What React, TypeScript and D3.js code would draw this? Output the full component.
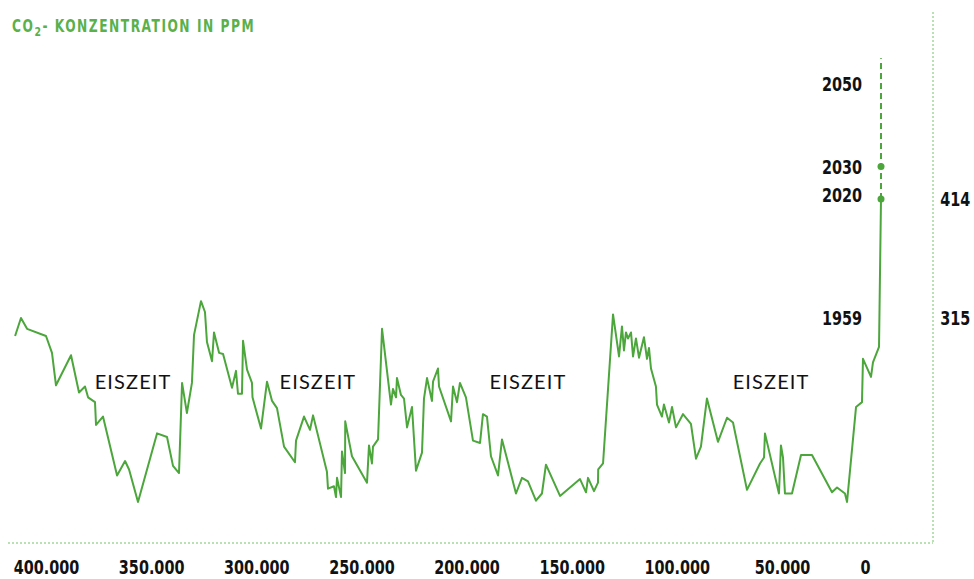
import React, { useEffect, useRef } from 'react';
import * as d3 from 'd3';

// years before present (x) and CO2 ppm (y)
const years = [
  414700, 411900, 409000, 400000, 397150, 395250, 388100, 384300, 381450, 380000,
  376700, 376200, 372900, 366200, 362400, 360500, 356250, 347200, 342450, 339600,
  336750, 335300, 333000, 330600, 329600, 326300, 324400, 323450, 321050, 320100,
  317700, 315800, 311550, 309650, 308700, 306800, 306300, 304400, 302050, 301800,
  297750, 294900, 292500, 290150, 286800, 281600, 281100, 277300, 274450, 273000,
  266400, 265900, 263050, 262100, 261600, 259700, 259250, 257800, 257700, 254500,
  247350, 246400, 245000, 244500, 242100, 240200, 235950, 235000, 233550, 233100,
  231200, 229750, 228300, 225950, 224050, 221200, 220250, 218800, 216450, 215950,
  213600, 213100, 207400, 206450, 204550, 203150, 200300, 196950, 193600, 192200,
  190300, 188400, 185050, 183150, 176500, 173650, 170800, 167000, 164150, 162250,
  155550, 146050, 143200, 142250, 139400, 137500, 137400, 135100, 130350, 127500,
  126100, 125150, 124200, 123250, 121800, 120850, 119450, 118000, 115650, 114200,
  113250, 112300, 109950, 109450, 107100, 106150, 103750, 102300, 100400, 97100,
  93300, 90900, 88550, 85700, 80450, 76150, 73300, 66650, 60450, 58550,
  58100, 51450, 50500, 49500, 48500, 44950, 40400, 34850, 24750, 22200,
  18200, 17150, 12600, 9600, 9100, 5050, 4050, 1000, 0,
];
const ppm = [
  300, 315, 306, 300, 286, 259, 284, 253, 258, 249,
  245, 226, 233, 184, 196, 189, 162, 219, 216, 192,
  186, 261, 236, 261, 301, 329, 320, 295, 279, 303,
  286, 285, 257, 271, 252, 252, 296, 272, 261, 249,
  223, 262, 246, 240, 208, 195, 213, 233, 222, 234,
  187, 173, 175, 166, 182, 166, 204, 186, 229, 200,
  178, 209, 194, 208, 214, 306, 243, 256, 249, 265,
  251, 248, 224, 241, 188, 203, 248, 265, 246, 262,
  273, 258, 229, 258, 245, 261, 249, 213, 211, 235,
  233, 200, 184, 214, 169, 182, 179, 163, 169, 193,
  167, 181, 170, 182, 171, 178, 189, 194, 318, 283,
  308, 288, 303, 298, 303, 283, 298, 282, 299, 281,
  290, 273, 258, 243, 233, 243, 228, 241, 224, 235,
  227, 198, 208, 248, 212, 232, 228, 172, 194, 199,
  219, 169, 209, 199, 169, 169, 201, 201, 170, 174,
  169, 162, 241, 245, 281, 266, 278, 291, 414,
];

const xTicks = [400000, 350000, 300000, 250000, 200000, 150000, 100000, 50000, 0];
const yTicks = [315, 414];

// projection above the present day value
const projYears = ['2020', '2030'];
const projPpm = [414, 441];
const projTop = 531;

const yearLabels = ['2050', '2030', '2020', '1959'];
const yearLabelPpm = [510, 441, 417, 315];

const iceAgeYears = [358600, 270700, 170800, 55200];
const iceAgePpm = 262;

const GREEN = '#4ca63c';
const LIGHT = '#74c266';
const NARROW = "'DejaVu Sans Condensed', sans-serif";
const SQUEEZE = 'scale(0.8,1)';

const App = () => {
  const ref = useRef<SVGSVGElement>(null);

  useEffect(() => {
    const svg = d3.select(ref.current);
    svg.selectAll('*').remove();

    const x = d3.scaleLinear().domain([400000, 50000, 0]).range([46, 782, 881]);
    const y = d3.scaleLinear().domain([315, 414]).range([318, 199]);
    const frameRight = 933;
    const frameBottom = 543;

    const fmt = d3.formatLocale({ decimal: ',', thousands: '.', grouping: [3], currency: ['', ''] }).format(',');

    // dotted frame
    svg.append('line')
      .attr('x1', 8).attr('x2', frameRight)
      .attr('y1', frameBottom).attr('y2', frameBottom)
      .attr('stroke', LIGHT).attr('stroke-dasharray', '2 2')
    svg.append('line')
      .attr('x1', frameRight).attr('x2', frameRight)
      .attr('y1', 12).attr('y2', frameBottom)
      .attr('stroke', LIGHT).attr('stroke-dasharray', '2 2')

    // x axis
    const xa = svg.append('g')
      .attr('transform', `translate(0,${frameBottom})`)
      .call(d3.axisBottom(x).tickValues(xTicks).tickSize(0).tickPadding(17).tickFormat((d) => fmt(d as number)))
    xa.select('.domain').remove()
    xa.selectAll('text')
      .attr('font-family', NARROW).attr('font-weight', 'bold').attr('font-size', 20).attr('fill', '#111')
      .attr('transform', SQUEEZE)
    // the "0" label sits a little left of the present-day end of the line
    xa.selectAll('text').filter((d) => d === 0).attr('dx', -20)

    // right axis
    const ya = svg.append('g')
      .attr('transform', `translate(${frameRight},0)`)
      .call(d3.axisRight(y).tickValues(yTicks).tickSize(0).tickPadding(9).tickFormat((d) => String(d)))
    ya.select('.domain').remove()
    ya.selectAll('text')
      .attr('font-family', NARROW).attr('font-weight', 'bold').attr('font-size', 20).attr('fill', '#111')
      .attr('transform', SQUEEZE)

    // title
    const title = svg.append('text')
      .attr('transform', `translate(12,32) ${SQUEEZE}`)
      .attr('font-family', NARROW).attr('font-weight', 'bold').attr('font-size', 17)
      .attr('letter-spacing', 1.9).attr('fill', '#5ab04b')
    title.append('tspan').text('CO')
    title.append('tspan').attr('font-size', 13).attr('dy', 4).text('2')
    title.append('tspan').attr('dy', -4).text('- KONZENTRATION IN PPM')

    // ice age labels
    svg.selectAll('.eis')
      .data(iceAgeYears)
      .enter()
      .append('text')
      .attr('class', 'eis')
      .attr('x', (d) => x(d))
      .attr('y', y(iceAgePpm))
      .attr('dy', '0.35em')
      .attr('text-anchor', 'middle')
      .attr('font-family', 'Lato, sans-serif').attr('font-size', 20)
      .attr('letter-spacing', 1.1).attr('fill', '#111')
      .text('EISZEIT')

    // projection
    svg.append('line')
      .attr('x1', x(0)).attr('x2', x(0))
      .attr('y1', y(projPpm[0])).attr('y2', y(projTop))
      .attr('stroke', GREEN).attr('stroke-width', 2).attr('stroke-dasharray', '6 4')

    // main line
    const data = years.map((yr, i) => ({ yr, v: ppm[i] }))
    const line = d3.line<{ yr: number; v: number }>().x((d) => x(d.yr)).y((d) => y(d.v))
    svg.append('path')
      .datum(data)
      .attr('d', line)
      .attr('fill', 'none')
      .attr('stroke', GREEN)
      .attr('stroke-width', 2)
      .attr('stroke-linejoin', 'round')

    svg.selectAll('.dot')
      .data(projYears.map((p, i) => ({ p, v: projPpm[i] })))
      .enter()
      .append('circle')
      .attr('class', 'dot')
      .attr('cx', x(0))
      .attr('cy', (d) => y(d.v))
      .attr('r', 3.5)
      .attr('fill', GREEN)

    // year labels
    svg.selectAll('.yl')
      .data(yearLabels.map((l, i) => ({ l, v: yearLabelPpm[i] })))
      .enter()
      .append('text')
      .attr('class', 'yl')
      .attr('transform', (d) => `translate(${x(0) - 19},${y(d.v)}) ${SQUEEZE}`)
      .attr('dy', '0.35em')
      .attr('text-anchor', 'end')
      .attr('font-family', NARROW).attr('font-weight', 'bold').attr('font-size', 20).attr('fill', '#111')
      .text((d) => d.l)
  }, [])

  return (
    <svg ref={ref} width={974} height={579}
      style={{ position: 'absolute', left: 0, top: 0, background: '#fff' }} />
  )
}

export default App
